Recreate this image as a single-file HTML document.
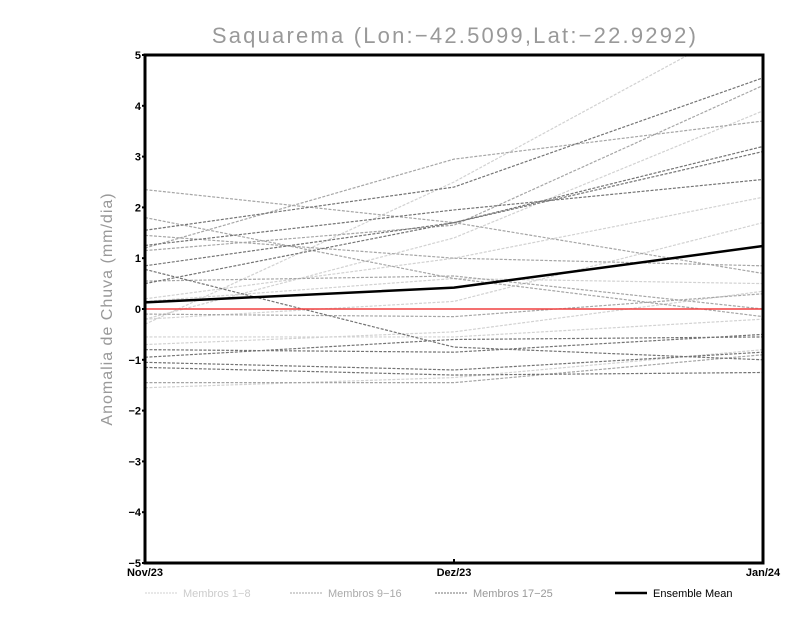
<!DOCTYPE html>
<html><head><meta charset="utf-8"><style>
body{margin:0;background:#fff}
svg{display:block;font-family:"Liberation Sans",sans-serif}
</style></head><body>
<svg id="c" width="800" height="618">
<text x="455" y="43" text-anchor="middle" font-size="22" fill="#999" letter-spacing="2.2">Saquarema (Lon:−42.5099,Lat:−22.9292)</text>
<text transform="translate(112,309) rotate(-90)" text-anchor="middle" font-size="16" fill="#999" letter-spacing="1">Anomalia de Chuva (mm/dia)</text>
<g id="plot"></g>
</svg>
<script>
const categories=["Nov/23","Dez/23","Jan/24"];
const yTicks=[-5,-4,-3,-2,-1,0,1,2,3,4,5];
const group1=[[-0.3,2.5,5.8],[-0.2,1.4,3.9],[0.2,1.0,2.2],[-0.2,0.15,1.7],[-0.55,-0.55,-0.2],[-1.55,-1.35,-0.8],[0.15,0.6,0.5],[-0.7,-0.45,0.35]];
const group2=[[2.35,1.7,0.7],[1.8,0.6,-0.15],[1.2,2.95,3.7],[1.45,1.0,0.85],[0.55,0.65,0.0],[1.15,1.65,4.4],[-1.45,-1.45,-0.9],[-0.1,-0.15,0.3]];
const group3=[[1.55,2.4,4.55],[1.25,1.95,2.55],[0.85,1.7,3.2],[0.5,1.7,3.1],[0.78,-0.75,-1.0],[-0.8,-0.85,-0.5],[-1.05,-1.2,-0.85],[-1.15,-1.3,-1.25],[-0.95,-0.6,-0.55]];
const meanSeries=[0.13,0.42,1.24];
const legendLabels=["Membros 1-8","Membros 9-16","Membros 17-25","Ensemble Mean"];

const NS="http://www.w3.org/2000/svg";
const L=145,R=763,T=55,B=563;
const xs=i=>L+i*(R-L)/(categories.length-1);
const ys=v=>T+(5-v)*(B-T)/10;
const g=document.getElementById('plot');
function mk(t,a,p){const e=document.createElementNS(NS,t);for(const k in a)e.setAttribute(k,a[k]);(p||g).appendChild(e);return e;}
const defs=mk('clipPath',{id:'clip'});mk('rect',{x:L,y:T,width:R-L,height:B-T},defs);
const lg=mk('g',{'clip-path':'url(#clip)'});
function series(arr,col,name){arr.forEach((s,j)=>{
 const p=mk('polyline',{points:s.map((v,i)=>xs(i)+','+ys(v)).join(' '),fill:'none',stroke:col,'stroke-width':1.2,'stroke-dasharray':'3,1.5'},lg);
 
 
});}
series(group1,'#d2d2d2','member-light');
series(group2,'#a6a6a6','member-mid');
series(group3,'#747474','member-dark');
const z=mk('line',{x1:L,x2:R,y1:ys(0),y2:ys(0),stroke:'#f04040','stroke-width':1.5});


const m=mk('polyline',{points:meanSeries.map((v,i)=>xs(i)+','+ys(v)).join(' '),fill:'none',stroke:'#000','stroke-width':2.5});


const fr=mk('rect',{x:L,y:T,width:R-L,height:B-T,fill:'none',stroke:'#000','stroke-width':3});


yTicks.forEach(v=>{
 const t=mk('text',{x:L-4,y:ys(v)+4,'text-anchor':'end','font-size':11,'font-weight':'bold'});t.textContent=v<0?'−'+(-v):v;
 
 
 mk('line',{x1:L-3,x2:L,y1:ys(v),y2:ys(v),stroke:'#000','stroke-width':2});
});
categories.forEach((c,i)=>{
 const t=mk('text',{x:xs(i),y:B+13,'text-anchor':'middle','font-size':11,'font-weight':'bold'});t.textContent=c;
 
 
 mk('line',{x1:xs(i),x2:xs(i),y1:B,y2:B-4,stroke:'#000','stroke-width':2});
});
const legX=[145,290,435,615],legCol=['#d2d2d2','#a6a6a6','#747474','#000'],legTxt=['#ccc','#aaa','#999','#000'];
legendLabels.forEach((s,i)=>{
 const l=mk('line',{x1:legX[i],x2:legX[i]+32,y1:593,y2:593,stroke:legCol[i],'stroke-width':i==3?2.5:1,'stroke-dasharray':i==3?'none':'2,1'});
 
 
 const t=mk('text',{x:legX[i]+38,y:597,'font-size':11,fill:legTxt[i]});t.textContent=s.replace('-','−');
 
 
});
</script>
</body></html>
